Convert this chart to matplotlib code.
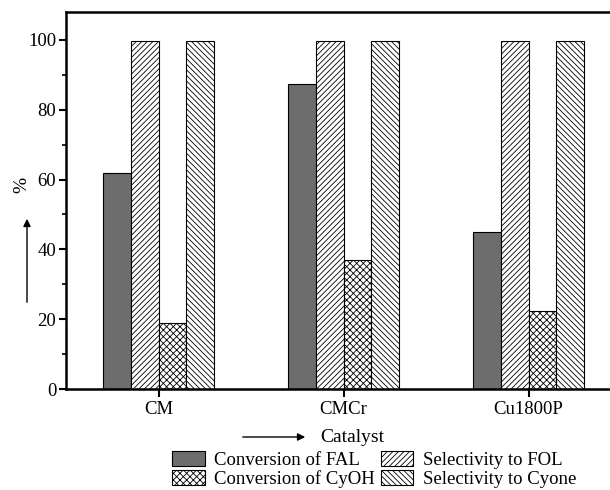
import matplotlib.pyplot as plt
import matplotlib.patches as mpatches
import numpy as np

catalysts = ['CM', 'CMCr', 'Cu1800P']
conv_fal = [61.8, 87.4, 45.1]
sel_fol = [99.8, 99.8, 99.8]
conv_cyoh = [18.9, 37.0, 22.3]
sel_cyone = [99.8, 99.8, 99.8]

series = [
    ('Conversion of FAL', conv_fal, '#6d6d6d', ''),
    ('Selectivity to FOL', sel_fol, 'white', '//////'),
    ('Conversion of CyOH', conv_cyoh, 'white', 'xxxxx'),
    ('Selectivity to Cyone', sel_cyone, 'white', '\\\\\\\\\\\\'),
]

plt.rcParams['font.family'] = ['Liberation Serif', 'DejaVu Serif']
plt.rcParams['hatch.linewidth'] = 0.6

fig = plt.figure(figsize=(6.1, 4.9), dpi=100)
ax = fig.add_axes([66 / 610, 1 - 389 / 490, 1 - 66 / 610, (389 - 12) / 490])

x = np.arange(len(catalysts))
w = 0.149
handles = {}
for i, (name, vals, color, hatch) in enumerate(series):
    bars = ax.bar(x + (i - 1.5) * w, vals, w, color=color, edgecolor='black',
                  hatch=hatch, linewidth=0.8, label=name)
    handles[name] = bars

ax.set_xlim(-0.5, 2.44)
ax.set_ylim(0, 108)
ax.set_xticks(x)
ax.set_xticklabels(catalysts)
ax.set_yticks([0, 20, 40, 60, 80, 100])
ax.set_yticks([10, 30, 50, 70, 90], minor=True)
ax.tick_params(axis='y', labelsize=13.5, direction='out', length=5, width=1.5, pad=2)
ax.tick_params(axis='y', which='minor', direction='out', length=3, width=1.2)
ax.tick_params(axis='x', labelsize=13.5, direction='out', length=6, width=1.5, pad=3)
for s in ['left', 'top', 'bottom']:
    ax.spines[s].set_linewidth(1.8)
ax.spines['right'].set_visible(False)

# y label with arrow
fig.text(22 / 610, 1 - 185 / 490, '%', rotation=90, ha='center', va='center', fontsize=14)
fig.add_artist(mpatches.FancyArrowPatch((27 / 610, 1 - 305 / 490), (27 / 610, 1 - 216 / 490),
                                        transform=fig.transFigure, arrowstyle='-|>',
                                        mutation_scale=11, color='black', lw=1))
# x label with arrow
fig.text(320 / 610, 1 - 437 / 490, 'Catalyst', ha='left', va='center', fontsize=14)
fig.add_artist(mpatches.FancyArrowPatch((240 / 610, 1 - 437 / 490), (308 / 610, 1 - 437 / 490),
                                        transform=fig.transFigure, arrowstyle='-|>',
                                        mutation_scale=11, color='black', lw=1))

order = ['Conversion of FAL', 'Conversion of CyOH', 'Selectivity to FOL', 'Selectivity to Cyone']
fig.legend([handles[n] for n in order], order, loc='upper left',
           bbox_to_anchor=(172 / 610, 1 - 451 / 490), ncol=2, frameon=False,
           fontsize=13.5, handlelength=1.75, handleheight=0.85, handletextpad=0.5,
           labelspacing=0.05, columnspacing=0.3, borderpad=0, borderaxespad=0)

fig.savefig('out.png', dpi=100)
